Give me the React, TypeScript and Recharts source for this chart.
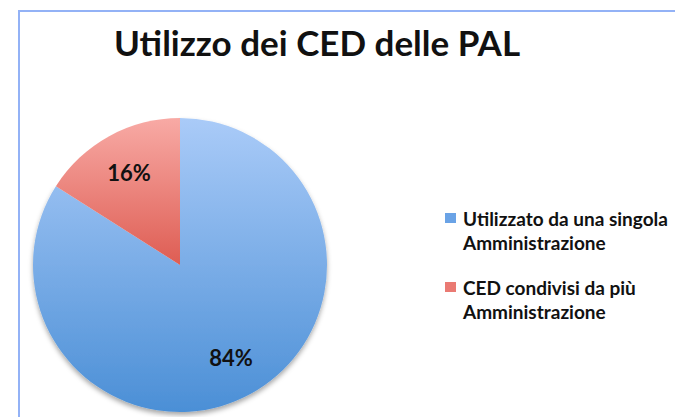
import { PieChart, Pie, Cell, Legend } from "recharts";

const categories = [
  "Utilizzato da una singola Amministrazione",
  "CED condivisi da più Amministrazione",
];
const shares = [84, 16];
const gradients = [
  ["#aacbf8", "#4b8fd6"],
  ["#f8aaa5", "#de5d53"],
];
const legendSwatch = ["#6aa3e6", "#ea7a73"];

const data = categories.map((name, i) => ({ name, value: shares[i] }));

const RADIAN = Math.PI / 180;

function renderLabel(props: any) {
  const { cx, cy, midAngle, outerRadius, value } = props;
  const r = outerRadius * 0.72;
  const x = cx + r * Math.cos(-midAngle * RADIAN);
  const y = cy + r * Math.sin(-midAngle * RADIAN);
  return (
    <text
      x={x}
      y={y}
      textAnchor="middle"
      dominantBaseline="central"
      fill="#111"
      fontFamily="Lato, sans-serif"
      fontWeight={700}
      fontSize={22}
    >
      {`${value}%`}
    </text>
  );
}

// legend in data order (recharts sorts the payload by name otherwise)
function LegendContent() {
  return (
    <div style={{ fontFamily: "Lato, sans-serif", fontWeight: 700, fontSize: 19, color: "#111" }}>
      {categories.map((name, i) => (
        <div key={`leg-${i}`} style={{ display: "flex", alignItems: "flex-start", marginBottom: 21 }}>
          <span
            style={{
              display: "inline-block",
              width: 11,
              height: 10,
              marginTop: 6,
              marginRight: 7,
              background: legendSwatch[i],
              flex: "none",
            }}
          />
          <span style={{ width: 230, lineHeight: "24px" }}>{name}</span>
        </div>
      ))}
    </div>
  );
}

export default function App() {
  return (
    <div
      style={{
        position: "fixed",
        left: 0,
        top: 0,
        width: 675,
        height: 417,
        overflow: "hidden",
        background: "#fff",
      }}
    >
      <div
        style={{
          position: "absolute",
          left: 18,
          top: 10,
          width: 700,
          height: 450,
          borderLeft: "2px solid #93b2f6",
          borderTop: "2px solid #93b2f6",
        }}
      />
      <div
        style={{
          position: "absolute",
          left: 114,
          top: 21,
          fontFamily: "Lato, sans-serif",
          fontWeight: 700,
          fontSize: 35,
          color: "#111",
          whiteSpace: "nowrap",
        }}
      >
        Utilizzo dei CED delle PAL
      </div>
      <div style={{ position: "absolute", left: 0, top: 0 }}>
        <PieChart width={675} height={417} margin={{ top: 0, right: 0, bottom: 0, left: 0 }}>
          <defs>
            {gradients.map((g, i) => (
              <linearGradient key={`grad-${i}`} id={`grad-${i}`} x1="0" y1="0" x2="0" y2="1">
                <stop offset="0%" stopColor={g[0]} />
                <stop offset="100%" stopColor={g[1]} />
              </linearGradient>
            ))}
            <filter id="pieShadow" x="-10%" y="-10%" width="120%" height="125%">
              <feDropShadow dx="0" dy="3" stdDeviation="2.5" floodColor="#000" floodOpacity="0.35" />
            </filter>
          </defs>
          <Pie
            data={data}
            dataKey="value"
            nameKey="name"
            cx={180}
            cy={265}
            outerRadius={147}
            startAngle={90}
            endAngle={-270}
            stroke="none"
            label={renderLabel}
            labelLine={false}
            isAnimationActive={false}
          >
            {data.map((_, i) => (
              <Cell
                key={`cell-${i}`}
                fill={`url(#grad-${i})`}
                filter={i === 0 ? "url(#pieShadow)" : undefined}
              />
            ))}
          </Pie>
          <Legend
            layout="vertical"
            content={<LegendContent />}
            wrapperStyle={{ left: 445, top: 207, width: 260 }}
          />
        </PieChart>
      </div>
    </div>
  );
}
